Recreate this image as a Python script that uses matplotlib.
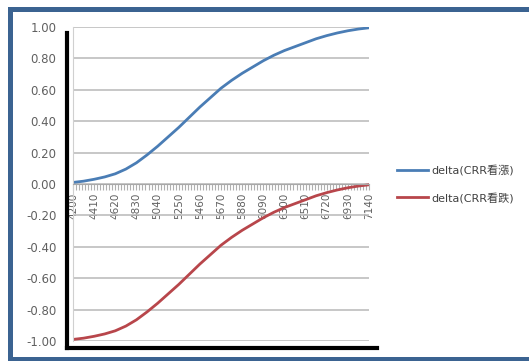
import matplotlib.pyplot as plt
from matplotlib.lines import Line2D
from matplotlib.patches import Rectangle
from matplotlib.ticker import MultipleLocator, FixedLocator

plt.rcParams['font.family'] = ['DejaVu Sans', 'Noto Sans CJK TC']

# strike prices (step 105) and the two delta series
strikes = [4200, 4305, 4410, 4515, 4620, 4725, 4830, 4935, 5040, 5145,
           5250, 5355, 5460, 5565, 5670, 5775, 5880, 5985, 6090, 6195,
           6300, 6405, 6510, 6615, 6720, 6825, 6930, 7035, 7140]
delta_call = [0.010, 0.018, 0.030, 0.045, 0.065, 0.095, 0.135, 0.185, 0.240, 0.300,
              0.360, 0.425, 0.490, 0.550, 0.610, 0.660, 0.705, 0.745, 0.785, 0.820,
              0.850, 0.875, 0.900, 0.925, 0.945, 0.962, 0.976, 0.987, 0.995]
delta_put = [-0.990, -0.982, -0.970, -0.955, -0.935, -0.905, -0.865, -0.815, -0.760, -0.700,
             -0.640, -0.575, -0.510, -0.450, -0.390, -0.340, -0.295, -0.255, -0.215, -0.180,
             -0.150, -0.125, -0.100, -0.075, -0.055, -0.038, -0.024, -0.013, -0.005]
label_call = 'delta(CRR看漲)'
label_put = 'delta(CRR看跌)'
x_labels = [4200, 4410, 4620, 4830, 5040, 5250, 5460, 5670, 5880, 6090,
            6300, 6510, 6720, 6930, 7140]
y_ticks = [-1.0, -0.8, -0.6, -0.4, -0.2, 0.0, 0.2, 0.4, 0.6, 0.8, 1.0]

W, H = 529, 361
fig = plt.figure(figsize=(W / 100, H / 100), dpi=100)
fig.patch.set_facecolor('white')

# blue frame around the chart (open on the right)
frame_col = '#3b6391'
fw = 3.6
fig.add_artist(Line2D([10 / W, 10 / W], [1 - 9 / H, 1 - 359 / H],
                      transform=fig.transFigure, color=frame_col, lw=fw,
                      solid_capstyle='projecting'))
fig.add_artist(Line2D([10 / W, 1.0], [1 - 9 / H, 1 - 9 / H],
                      transform=fig.transFigure, color=frame_col, lw=fw,
                      solid_capstyle='projecting'))
fig.add_artist(Line2D([10 / W, 1.0], [1 - 359 / H, 1 - 359 / H],
                      transform=fig.transFigure, color=frame_col, lw=fw,
                      solid_capstyle='projecting'))

ax = fig.add_axes([73 / W, 1 - 341 / H, (369 - 73) / W, (341 - 27) / H])
ax.plot(strikes, delta_call, color='#4a7db5', lw=2, label=label_call)
ax.plot(strikes, delta_put, color='#b8464b', lw=2, label=label_put)

ax.set_xlim(4200, 7140)
ax.set_ylim(-1.0, 1.0)
ax.set_yticks(y_ticks)
ax.set_yticklabels(['%.2f' % v for v in y_ticks])
ax.yaxis.grid(True, color='#bdbdbd', lw=1.2)
ax.set_axisbelow(True)

ax.spines['bottom'].set_position(('data', 0))
ax.spines['bottom'].set_color('#a8a8a8')
ax.spines['left'].set_color('#d0d0d0')
ax.spines['top'].set_visible(False)
ax.spines['right'].set_visible(False)

ax.xaxis.set_major_locator(FixedLocator(x_labels))
ax.xaxis.set_minor_locator(MultipleLocator(30))
ax.tick_params(axis='x', which='both', direction='out', length=4,
               color='#b0b0b0', width=0.8, labelsize=7.5,
               labelcolor='#606060', rotation=90, pad=2)
ax.tick_params(axis='y', length=0, labelsize=8.5, labelcolor='#606060', pad=12)

# thick black edges drawn at the left and bottom of the plot
fig.add_artist(Line2D([66.5 / W, 66.5 / W], [1 - 33 / H, 1 - 348 / H],
                      transform=fig.transFigure, color='black', lw=3))
fig.add_artist(Line2D([66.5 / W, 377 / W], [1 - 348 / H, 1 - 348 / H],
                      transform=fig.transFigure, color='black', lw=3))

leg = ax.legend(loc='center left', bbox_to_anchor=(1.06, 0.5), frameon=False,
                fontsize=8, handlelength=2.8, labelspacing=1.5,
                handletextpad=0.3)
for t in leg.get_texts():
    t.set_color('#404040')

fig.savefig('out.png', dpi=100)
